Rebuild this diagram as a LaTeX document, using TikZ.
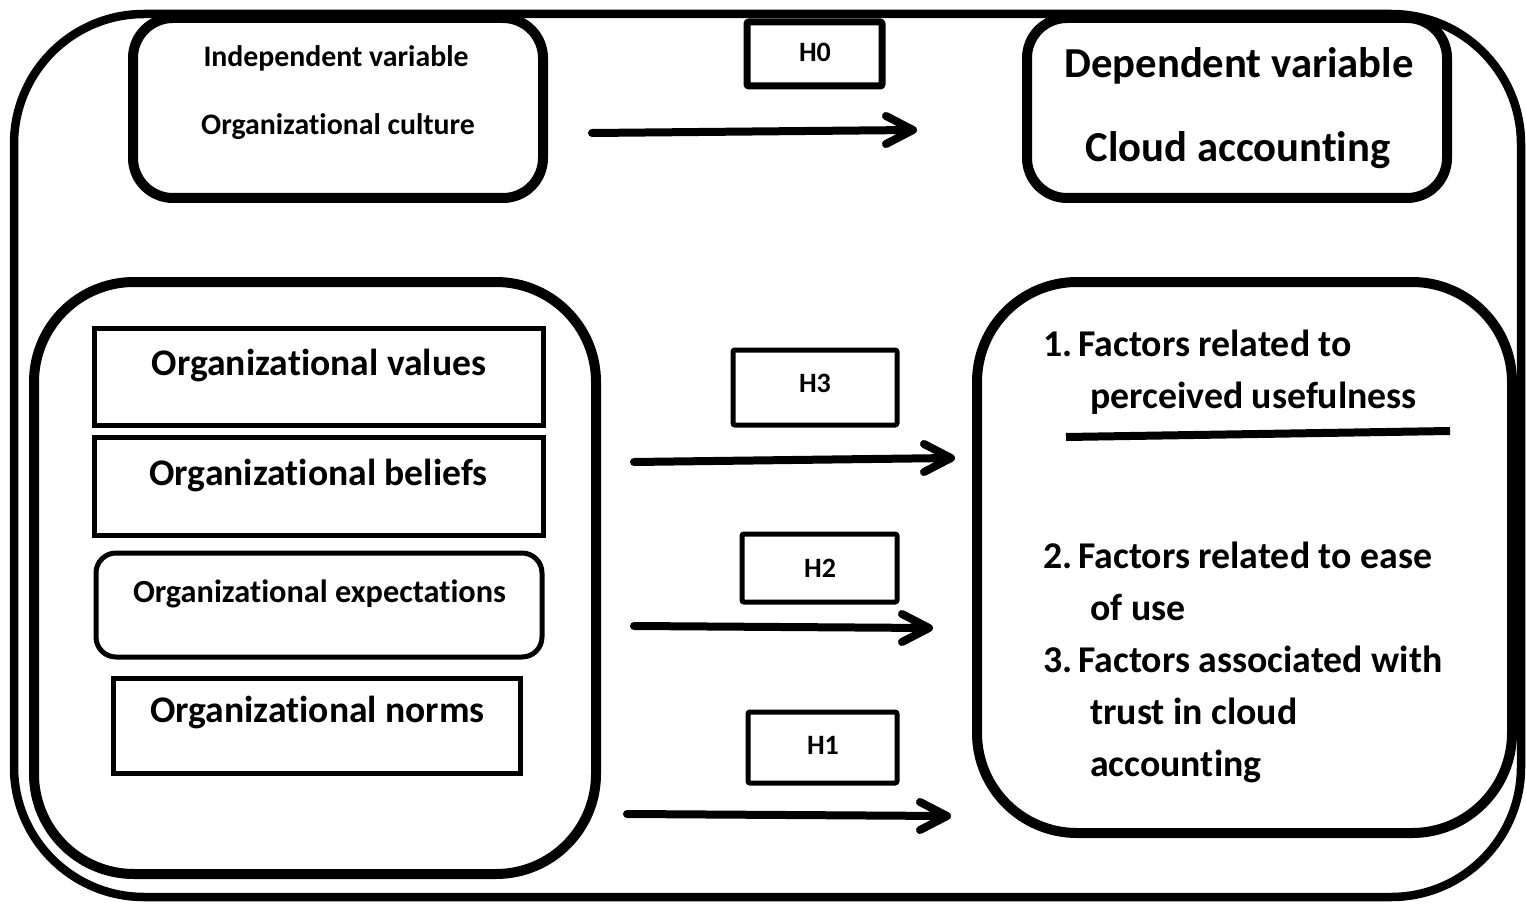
\documentclass[tikz,border=0pt]{standalone}
\usepackage{fontspec}
\setmainfont[Ligatures={NoCommon}]{Carlito}
\tikzset{
  bigbox/.style={draw, line width=10pt, fill=white, rounded corners=#1, inner sep=0pt},
  thinbox/.style={draw, line width=5pt, fill=white, inner sep=0pt},
  hbox/.style={draw, line width=5pt, fill=white, inner sep=0pt, rounded corners=2pt},
  lbl/.style={font=\bfseries\fontsize{#1}{#1}\selectfont, anchor=base, inner sep=0pt},
  item/.style={font=\bfseries\fontsize{37.8}{37.8}\selectfont, anchor=base west, inner sep=0pt},
  arr/.style={line width=8pt, line cap=round, line join=round},
}
\begin{document}
\begin{tikzpicture}[x=1pt,y=-1pt]
\useasboundingbox (0,0) rectangle (1526,904);
% outer frame
\draw[line width=8.5pt, rounded corners=130pt] (14,14) rectangle (1521,897);
% top boxes
\node[bigbox=40pt, minimum width=410pt, minimum height=180pt] (iv) at (338,108) {};
\node[bigbox=40pt, minimum width=420pt, minimum height=180pt] (dv) at (1237,108) {};
\node[lbl=29.8] (ivt1) at (336,67) {Independent variable};
\node[lbl=29.8] (ivt2) at (338,135) {Organizational culture};
\node[lbl=42.7] (dvt1) at (1239,78) {Dependent variable};
\node[lbl=42.7] (dvt2) at (1238,162) {Cloud accounting};
\node[hbox, line width=7pt, minimum width=135pt, minimum height=64pt] (h0) at (814.5,54) {};
\node[lbl=28] (h0t) at (815,62) {H0};
\coordinate (a0s) at (592,133);
\coordinate (a0e) at (913,130);
\draw[arr] (a0s) -- (a0e) ++(-27,-14) -- (a0e) -- ++(-27,14);
% lower left group
\node[bigbox=100pt, minimum width=562pt, minimum height=592pt] (left) at (315,578) {};
\node[thinbox, minimum width=449pt, minimum height=97pt] (val) at (318.5,376.5) {};
\node[lbl=37.6] (valt) at (319,375) {Organizational values};
\node[thinbox, minimum width=449pt, minimum height=98pt] (bel) at (318.5,486) {};
\node[lbl=37.6] (belt) at (318.5,485) {Organizational beliefs};
\node[thinbox, rounded corners=20pt, minimum width=446pt, minimum height=104pt] (exp) at (319,605) {};
\node[lbl=32.3] (expt) at (319.5,602) {Organizational expectations};
\node[thinbox, minimum width=407pt, minimum height=95pt] (norm) at (316.5,725.5) {};
\node[lbl=37.6] (normt) at (317.5,722) {Organizational norms};
% hypothesis boxes
\node[hbox, minimum width=164pt, minimum height=75pt] (h3) at (815,387.5) {};
\node[lbl=28] (h3t) at (815,392) {H3};
\node[hbox, minimum width=155pt, minimum height=68pt] (h2) at (819.5,568) {};
\node[lbl=28] (h2t) at (820,577) {H2};
\node[hbox, minimum width=149pt, minimum height=71pt] (h1) at (822.5,747.5) {};
\node[lbl=28] (h1t) at (823,754) {H1};
\coordinate (a3s) at (634,462);
\coordinate (a3e) at (951,458);
\coordinate (a2s) at (634,626);
\coordinate (a2e) at (929,628);
\coordinate (a1s) at (627,814);
\coordinate (a1e) at (947,816);
\draw[arr] (a3s) -- (a3e) ++(-27,-14) -- (a3e) -- ++(-27,14);
\draw[arr] (a2s) -- (a2e) ++(-27,-14) -- (a2e) -- ++(-27,14);
\draw[arr] (a1s) -- (a1e) ++(-27,-14) -- (a1e) -- ++(-27,14);
% right group
\node[bigbox=100pt, minimum width=535pt, minimum height=551pt] (right) at (1244.5,557.5) {};
\node[item] (n1) at (1043,356) {1.};
\node[item] (i1a) at (1078,356) {Factors related to};
\node[item] (i1b) at (1090,408) {perceived usefulness};
\coordinate (ul1) at (1066,437);
\coordinate (ul2) at (1450,431);
\draw[line width=8pt] (ul1) -- (ul2);
\node[item] (n2) at (1043,568) {2.};
\node[item] (i2a) at (1078,568) {Factors related to ease};
\node[item] (i2b) at (1090,620) {of use};
\node[item] (n3) at (1043,672) {3.};
\node[item] (i3a) at (1078,672) {Factors associated with};
\node[item] (i3b) at (1090,724) {trust in cloud};
\node[item] (i3c) at (1090,776) {accounting};
\end{tikzpicture}
\end{document}
